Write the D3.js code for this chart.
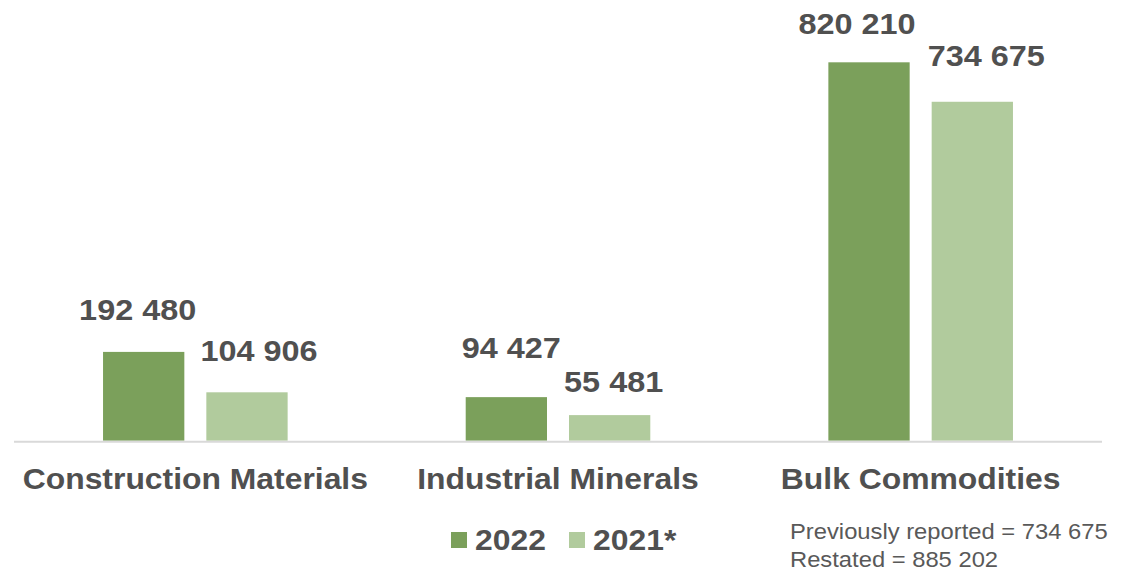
<!DOCTYPE html>
<html>
<head>
<meta charset="utf-8">
<script src="https://cdn.jsdelivr.net/npm/d3@7"></script>
<style>
  html, body { margin: 0; padding: 0; background: #ffffff; }
  svg { display: block; font-family: "Liberation Sans", Arial, sans-serif; }
</style>
</head>
<body>
<svg id="chart" width="1130" height="572"></svg>
<script>
// Production by segment
const categories = ["Construction Materials", "Industrial Minerals", "Bulk Commodities"];
const seriesNames = ["2022", "2021*"];
const values2022 = [192480, 94427, 820210];
const values2021 = [104906, 55481, 734675];
const noteLines = ["Previously reported = 734 675", "Restated = 885 202"];

// Hand-placed value label nudges (dx, dy from bar centre / bar top)
const labelNudge2022 = [[-6, -32], [5, -39], [-12, -28]];
const labelNudge2021 = [[12, -31], [4, -23], [14, -36]];

const colors = { "2022": "#7ba05b", "2021*": "#b1cb9d" };
const textColor = "#505050";
const textStretch = 1.08; // slightly wide lettering

const svg = d3.select("#chart");
const baseline = 440.7;

const x = d3.scaleBand().domain(categories).range([14, 1102]).padding(0);
const bw = x.bandwidth();
const xInner = d3.scaleBand().domain(seriesNames)
  .range([bw * 0.2455, bw * 0.7545]).paddingInner(0.213).paddingOuter(0);
const y = d3.scaleLinear().domain([0, 900000]).range([baseline, 25.5]);

const fmt = v => d3.format(",")(v).replace(/,/g, " ");

// widen a text selection horizontally while keeping its anchor
function widen(sel) {
  sel.each(function () {
    const len = this.getComputedTextLength();
    d3.select(this)
      .attr("textLength", len * textStretch)
      .attr("lengthAdjust", "spacingAndGlyphs");
  });
}

const rows = categories.map((c, i) => ({
  cat: c,
  items: [
    { s: "2022", v: values2022[i], nudge: labelNudge2022[i] },
    { s: "2021*", v: values2021[i], nudge: labelNudge2021[i] }
  ]
}));

const groups = svg.selectAll("g.cat").data(rows).join("g")
  .attr("class", "cat")
  .attr("transform", d => `translate(${x(d.cat)},0)`);

groups.selectAll("rect").data(d => d.items).join("rect")
  .attr("x", d => xInner(d.s))
  .attr("width", xInner.bandwidth())
  .attr("y", d => y(d.v))
  .attr("height", d => y(0) - y(d.v))
  .attr("fill", d => colors[d.s]);

groups.selectAll("text.val").data(d => d.items).join("text")
  .attr("class", "val")
  .attr("x", d => xInner(d.s) + xInner.bandwidth() / 2 + d.nudge[0])
  .attr("y", d => y(d.v) + d.nudge[1])
  .attr("text-anchor", "middle")
  .attr("font-size", 30)
  .attr("font-weight", "bold")
  .attr("fill", textColor)
  .text(d => fmt(d.v))
  .call(widen);

// Category axis line
svg.append("line")
  .attr("x1", x.range()[0]).attr("x2", x.range()[1])
  .attr("y1", baseline + 1).attr("y2", baseline + 1)
  .attr("stroke", "#d9d9d9").attr("stroke-width", 2);

// Category labels
svg.selectAll("text.cat").data(categories).join("text")
  .attr("class", "cat")
  .attr("x", d => x(d) + bw / 2)
  .attr("y", 489)
  .attr("text-anchor", "middle")
  .attr("font-size", 29.5)
  .attr("font-weight", "bold")
  .attr("fill", textColor)
  .text(d => d)
  .call(widen);

// Legend
const legendX = [451, 569];
const legend = svg.selectAll("g.leg").data(seriesNames).join("g")
  .attr("class", "leg")
  .attr("transform", (d, i) => `translate(${legendX[i]},532)`);
legend.append("rect")
  .attr("width", 16).attr("height", 16)
  .attr("fill", d => colors[d]);
legend.append("text")
  .attr("x", 24).attr("y", 18)
  .attr("font-size", 29.5)
  .attr("font-weight", "bold")
  .attr("fill", textColor)
  .text(d => d)
  .call(widen);

// Restatement note
svg.selectAll("text.note").data(noteLines).join("text")
  .attr("class", "note")
  .attr("x", 790)
  .attr("y", (d, i) => 539 + i * 28)
  .attr("font-size", 22)
  .attr("fill", "#595959")
  .text(d => d)
  .call(widen);
</script>
</body>
</html>
